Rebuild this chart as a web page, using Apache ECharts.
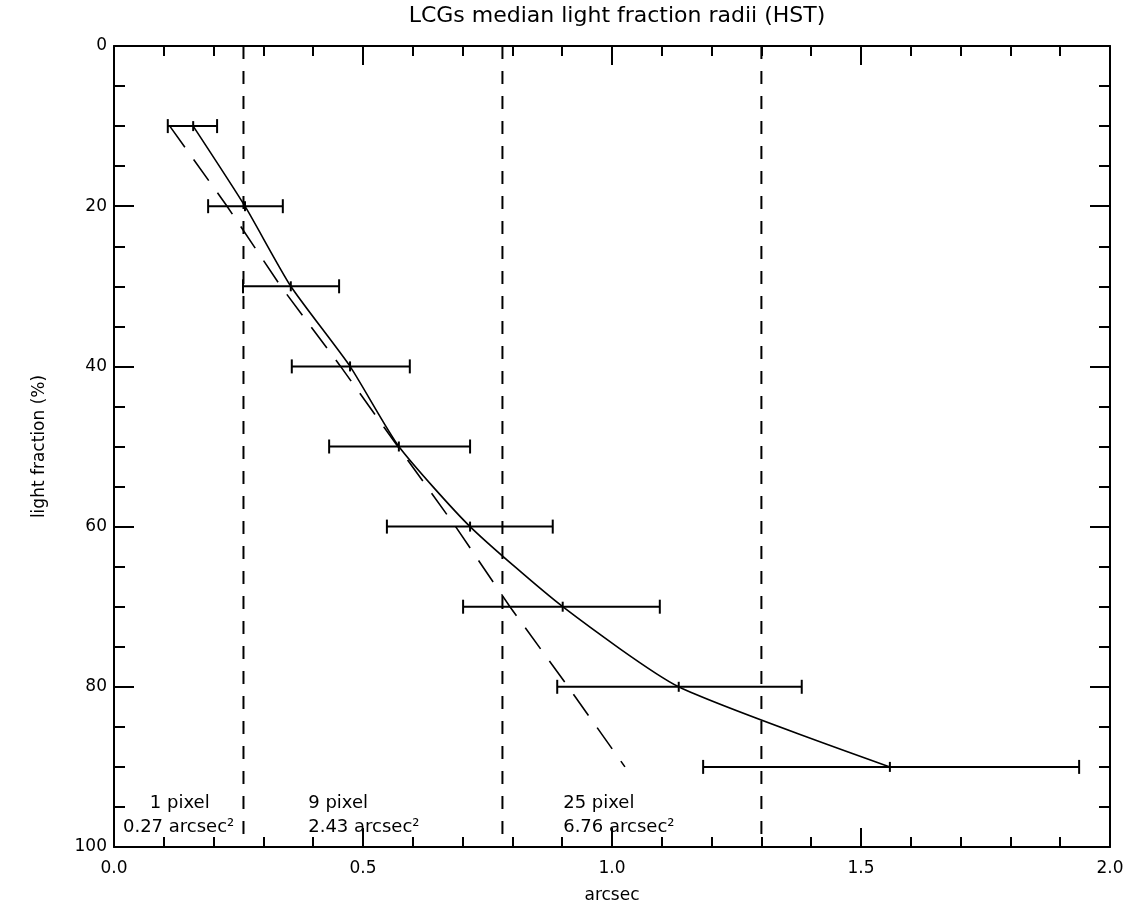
<!DOCTYPE html>
<html>
<head>
<meta charset="utf-8">
<script src="https://cdn.jsdelivr.net/npm/echarts@6/dist/echarts.min.js"></script>
<style>
  html, body { margin: 0; padding: 0; background: #fff; }
  #chart { width: 1129px; height: 910px; }
</style>
</head>
<body>
<div id="chart"></div>
<script>
// light fraction levels (%)
const fracs = [10, 20, 30, 40, 50, 60, 70, 80, 90]
// median radius (arcsec) and the error bar ends
const medRadius = [0.159, 0.263, 0.355, 0.474, 0.572, 0.715, 0.901, 1.134, 1.558]
const errLow = [0.108, 0.189, 0.259, 0.357, 0.432, 0.548, 0.701, 0.890, 1.183]
const errHigh = [0.207, 0.339, 0.452, 0.594, 0.715, 0.881, 1.096, 1.381, 1.938]
// dashed comparison curve
const fitRadius = [0.112, 0.227, 0.335, 0.455, 0.570, 0.686, 0.795, 0.912, 1.026]
// pixel aperture radii (vertical dashed lines)
const pixelRadii = [0.26, 0.78, 1.30]
// annotation texts: [x, y, text]
const notes = [
    [0.072, 94.5, '1 pixel'],
    [0.018, 97.5, '0.27 arcsec²'],
    [0.390, 94.5, '9 pixel'],
    [0.390, 97.5, '2.43 arcsec²'],
    [0.902, 94.5, '25 pixel'],
    [0.902, 97.5, '6.76 arcsec²']
]

const FONT = 'DejaVu Sans'
const chart = echarts.init(document.getElementById('chart'))

const xBase = {
    type: 'value', min: 0, max: 2, interval: 0.5,
    axisLine: { onZero: false, lineStyle: { color: '#000', width: 2 } },
    axisTick: { inside: true, length: 19, lineStyle: { color: '#000', width: 2 } },
    minorTick: { show: true, splitNumber: 5, length: 10, lineStyle: { color: '#000', width: 2 } },
    splitLine: { show: false }
}
const yBase = {
    type: 'value', min: 0, max: 100, interval: 20, inverse: true,
    axisLine: { onZero: false, lineStyle: { color: '#000', width: 2 } },
    axisTick: { inside: true, length: 20, lineStyle: { color: '#000', width: 2 } },
    minorTick: { show: true, splitNumber: 4, length: 11, lineStyle: { color: '#000', width: 2 } },
    splitLine: { show: false }
}

const option = {
    backgroundColor: '#fff',
    animation: false,
    title: {
        text: 'LCGs median light fraction radii (HST)',
        left: 612, top: 0, textAlign: 'center',
        textStyle: { fontFamily: FONT, fontSize: 22, fontWeight: 'normal', color: '#000' }
    },
    grid: { left: 114, top: 46, right: 19, bottom: 63 },
    xAxis: [
        Object.assign({}, xBase, {
            position: 'bottom',
            name: 'arcsec', nameLocation: 'middle', nameGap: 40,
            nameTextStyle: { fontFamily: FONT, fontSize: 17, color: '#000' },
            axisLabel: { margin: 13, fontFamily: FONT, fontSize: 17, color: '#000', formatter: v => v.toFixed(1) }
        }),
        Object.assign({}, xBase, { position: 'top', axisLabel: { show: false } })
    ],
    yAxis: [
        Object.assign({}, yBase, {
            position: 'left',
            name: 'light fraction (%)', nameLocation: 'middle', nameGap: 66, nameRotate: 90,
            nameTextStyle: { fontFamily: FONT, fontSize: 17, color: '#000' },
            axisLabel: { margin: 7, fontFamily: FONT, fontSize: 17, color: '#000' }
        }),
        Object.assign({}, yBase, { position: 'right', axisLabel: { show: false } })
    ],
    series: [
        {
            // median radii
            type: 'line',
            data: fracs.map((f, i) => [medRadius[i], f]),
            smooth: 0.2,
            symbol: 'none',
            lineStyle: { color: '#000', width: 1.6 },
            z: 3
        },
        {
            // dashed curve
            type: 'line',
            data: fracs.map((f, i) => [fitRadius[i], f]),
            symbol: 'none',
            lineStyle: { color: '#000', width: 1.6, type: [26, 15] },
            z: 3
        },
        {
            // error bars
            type: 'custom',
            data: fracs.map((f, i) => [errLow[i], errHigh[i], f, medRadius[i]]),
            renderItem: (params, api) => {
                const a = api.coord([api.value(0), api.value(2)])
                const b = api.coord([api.value(1), api.value(2)])
                const c = api.coord([api.value(3), api.value(2)])
                const st = { stroke: '#000', lineWidth: 2 }
                return {
                    type: 'group',
                    children: [
                        { type: 'line', shape: { x1: a[0], y1: a[1], x2: b[0], y2: b[1] }, style: st },
                        { type: 'line', shape: { x1: a[0], y1: a[1] - 7, x2: a[0], y2: a[1] + 7 }, style: st },
                        { type: 'line', shape: { x1: b[0], y1: b[1] - 7, x2: b[0], y2: b[1] + 7 }, style: st },
                        { type: 'line', shape: { x1: c[0], y1: c[1] - 5, x2: c[0], y2: c[1] + 5 }, style: st }
                    ]
                }
            },
            z: 4
        },
        {
            // pixel aperture lines
            type: 'custom',
            data: pixelRadii.map(r => [r]),
            renderItem: (params, api) => {
                const p0 = api.coord([api.value(0), 0])
                const p1 = api.coord([api.value(0), 100])
                return {
                    type: 'line',
                    shape: { x1: p0[0], y1: p0[1], x2: p1[0], y2: p1[1] },
                    style: { stroke: '#000', lineWidth: 2, lineDash: [13, 12] }
                }
            },
            z: 2
        },
        {
            // annotations
            type: 'custom',
            data: notes,
            renderItem: (params, api) => {
                const p = api.coord([api.value(0), api.value(1)])
                return {
                    type: 'text',
                    x: p[0], y: p[1],
                    style: {
                        text: notes[params.dataIndex][2],
                        fill: '#000',
                        font: '18px "DejaVu Sans"',
                        textAlign: 'left',
                        textVerticalAlign: 'middle'
                    }
                }
            },
            z: 5
        }
    ]
}

chart.setOption(option)
</script>
</body>
</html>
